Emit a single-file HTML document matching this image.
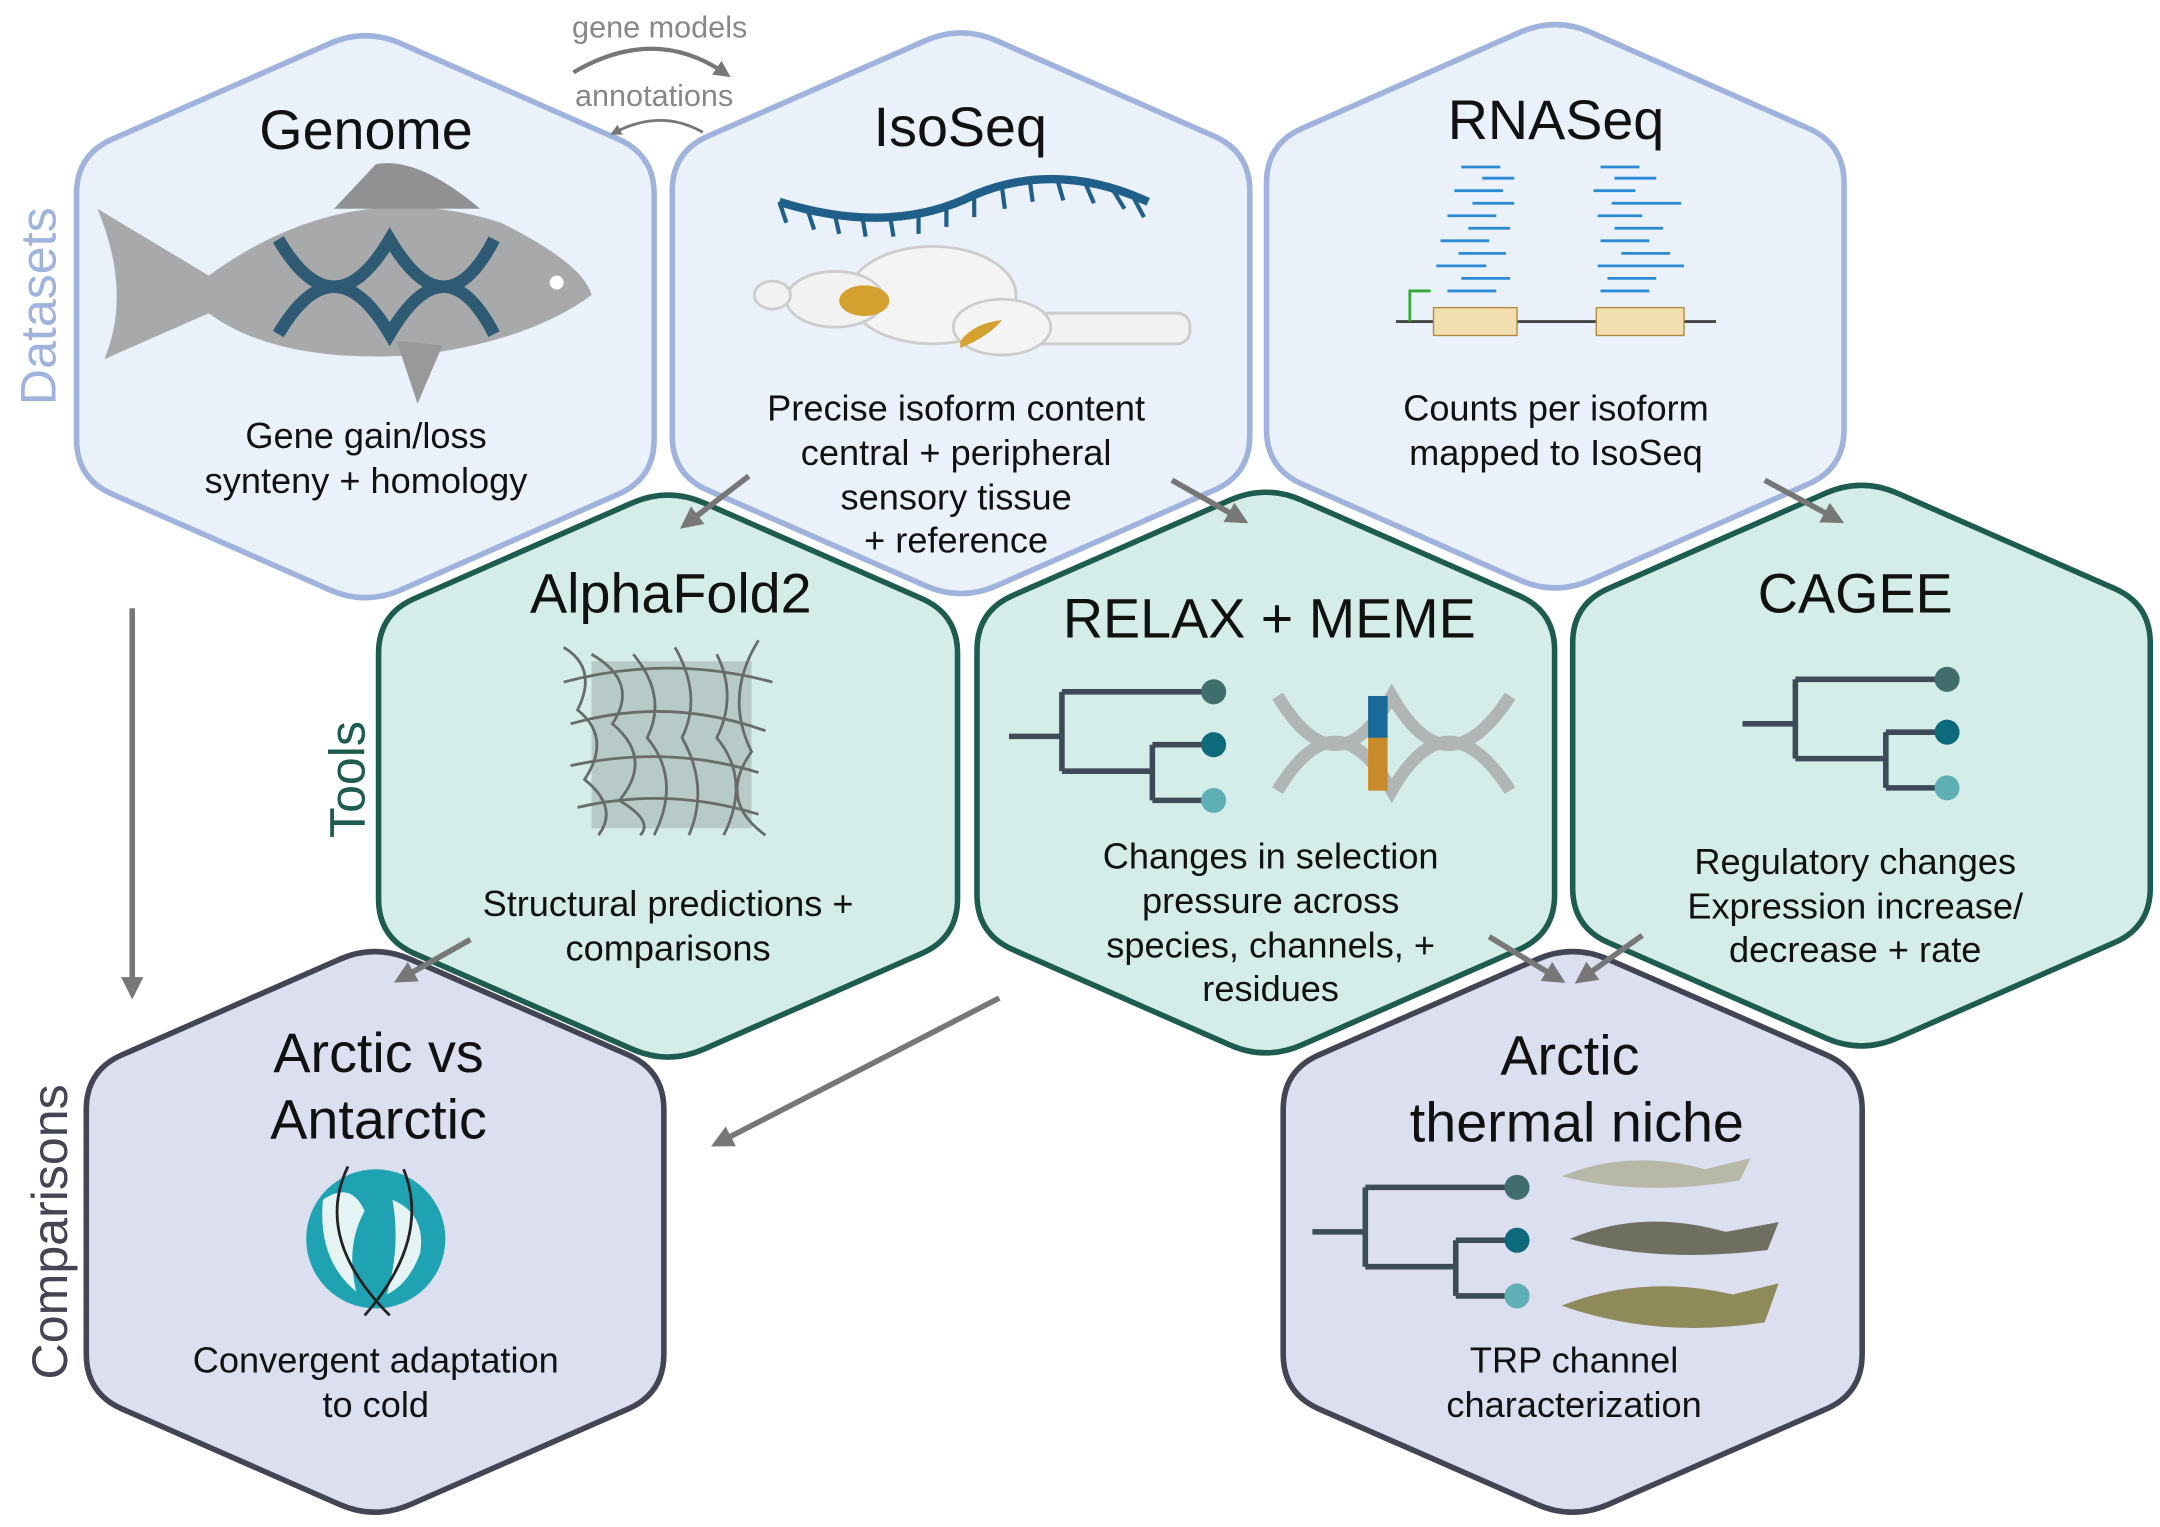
<!DOCTYPE html>
<html><head><meta charset="utf-8"><style>
html,body{margin:0;padding:0;background:#fff;}
svg{display:block;}
text{font-family:"Liberation Sans",sans-serif;}
</style></head><body>
<svg width="2160" height="1527" viewBox="0 0 1552 1097" preserveAspectRatio="none">
<defs>
<marker id="ar" viewBox="0 0 10 10" refX="5" refY="5" markerWidth="4" markerHeight="4" orient="auto"><path d="M0,0 L10,5 L0,10 z" fill="#777"/></marker>
</defs>
<g id="hexes"></g>
<text transform="translate(40,220) rotate(-90)" text-anchor="middle" font-size="36" fill="#9fb3dc">Datasets</text>
<text transform="translate(262,560) rotate(-90)" text-anchor="middle" font-size="36" fill="#1f5c50">Tools</text>
<text transform="translate(48,885) rotate(-90)" text-anchor="middle" font-size="36" fill="#434555">Comparisons</text>
<text x="474" y="27" text-anchor="middle" font-size="22" fill="#888">gene models</text>
<text x="470" y="76" text-anchor="middle" font-size="22" fill="#888">annotations</text>
<path d="M412,52 Q470,18 520,52" fill="none" stroke="#777" stroke-width="3" marker-end="url(#ar)"/>
<path d="M505,95 Q475,78 442,95" fill="none" stroke="#777" stroke-width="2" marker-end="url(#ar)"/>
<g stroke="#777" stroke-width="4" fill="none" marker-end="url(#ar)">
<line x1="95" y1="437" x2="95" y2="710"/>
<line x1="538" y1="342" x2="495" y2="375"/>
<line x1="842" y1="345" x2="890" y2="372"/>
<line x1="1268" y1="345" x2="1318" y2="372"/>
<line x1="338" y1="675" x2="290" y2="702"/>
<line x1="718" y1="717" x2="518" y2="820"/>
<line x1="1070" y1="673" x2="1118" y2="702"/>
<line x1="1180" y1="672" x2="1138" y2="702"/>
</g>
<g>
<path d="M150,198 Q250,125 360,160 Q420,190 425,212 Q380,245 300,255 Q200,262 150,225 L75,258 Q95,210 70,150 Z" fill="#a7a9ab"/>
<path d="M240,150 L270,118 Q300,112 345,150 Z" fill="#8f9193"/>
<path d="M285,245 L300,290 L318,248 Z" fill="#999"/>
<path d="M200,172 Q240,240 280,172 Q320,240 355,172 M200,240 Q240,172 280,240 Q320,172 355,240" stroke="#2e5b73" stroke-width="9" fill="none"/>
<circle cx="400" cy="203" r="5" fill="#fff"/>
</g>
<g>
<path d="M560,145 Q640,170 700,140 Q760,115 825,145" stroke="#1f5f8a" stroke-width="6" fill="none"/>
<path d="M560,145 L565,160 M580,150 L585,165 M600,155 L603,168 M620,158 L622,170 M640,158 L642,170 M660,155 L660,168 M680,150 L680,163 M700,142 L700,156 M720,135 L722,150 M740,130 L742,145 M760,130 L764,144 M780,132 L786,146 M800,137 L808,150 M815,143 L822,156" stroke="#1f5f8a" stroke-width="3"/>
<rect x="730" y="225" width="125" height="22" rx="9" fill="#f2f2f2" stroke="#ccc" stroke-width="2"/>
<ellipse cx="670" cy="212" rx="60" ry="35" fill="#f4f4f4" stroke="#ccc" stroke-width="2"/>
<ellipse cx="720" cy="235" rx="35" ry="20" fill="#f4f4f4" stroke="#ccc" stroke-width="2"/>
<ellipse cx="600" cy="215" rx="35" ry="20" fill="#f2f2f2" stroke="#ccc" stroke-width="2"/>
<ellipse cx="555" cy="212" rx="13" ry="10" fill="#f2f2f2" stroke="#ccc" stroke-width="2"/>
<ellipse cx="621" cy="216" rx="18" ry="11" fill="#d4a030"/>
<path d="M690,245 Q700,232 720,230 Q710,242 690,250Z" fill="#d4a030"/>
</g>
<g stroke="#2a8ad4" stroke-width="2">
<line x1="1050" y1="120" x2="1078" y2="120"/><line x1="1065" y1="128" x2="1088" y2="128"/><line x1="1045" y1="137" x2="1080" y2="137"/><line x1="1058" y1="146" x2="1088" y2="146"/><line x1="1040" y1="155" x2="1075" y2="155"/><line x1="1055" y1="164" x2="1085" y2="164"/><line x1="1035" y1="173" x2="1070" y2="173"/><line x1="1048" y1="182" x2="1082" y2="182"/><line x1="1032" y1="191" x2="1068" y2="191"/><line x1="1050" y1="200" x2="1085" y2="200"/><line x1="1040" y1="209" x2="1075" y2="209"/>
<line x1="1150" y1="120" x2="1178" y2="120"/><line x1="1160" y1="128" x2="1190" y2="128"/><line x1="1145" y1="137" x2="1175" y2="137"/><line x1="1158" y1="146" x2="1208" y2="146"/><line x1="1148" y1="155" x2="1180" y2="155"/><line x1="1160" y1="164" x2="1195" y2="164"/><line x1="1150" y1="173" x2="1185" y2="173"/><line x1="1165" y1="182" x2="1200" y2="182"/><line x1="1148" y1="191" x2="1210" y2="191"/><line x1="1155" y1="200" x2="1190" y2="200"/><line x1="1150" y1="209" x2="1185" y2="209"/>
</g>
<line x1="1003" y1="231" x2="1233" y2="231" stroke="#444" stroke-width="2"/>
<rect x="1030" y="221" width="60" height="20" fill="#f2dfb0" stroke="#b08b40"/>
<rect x="1147" y="221" width="63" height="20" fill="#f2dfb0" stroke="#b08b40"/>
<path d="M1013,231 L1013,209 L1028,209" stroke="#3a3" stroke-width="2" fill="none"/>
<g fill="none" stroke="#555" stroke-width="2" opacity="0.85">
<rect x="425" y="475" width="115" height="120" fill="#777" stroke="none" opacity="0.35"/>
<path d="M405,465 Q430,480 415,510 Q440,530 420,560 Q445,580 430,600 M425,470 Q460,490 440,520 Q470,545 445,575 Q470,590 460,600 M455,470 Q480,500 465,530 Q490,560 470,600 M485,465 Q505,500 490,530 Q510,565 495,600 M515,470 Q530,500 515,530 Q540,560 520,600 M545,460 Q520,500 540,540 Q515,575 550,600"/>
<path d="M405,490 Q480,470 555,490 M410,520 Q480,500 550,525 M410,550 Q480,535 545,555 M415,580 Q480,565 545,585"/>
</g>
<g id="trees" stroke="#3d4a57" stroke-width="4" fill="none"></g>
<path d="M918,500 Q960,570 1000,500 Q1040,570 1085,500 M918,568 Q960,498 1000,568 Q1040,498 1085,568" stroke="#b0b5b5" stroke-width="9" fill="none"/>
<rect x="983" y="500" width="14" height="68" fill="#c98a2a"/><rect x="983" y="500" width="14" height="30" fill="#1a6a9a"/>
<g>
<circle cx="270" cy="890" r="50" fill="#1fa3b3"/>
<path d="M232,862 Q252,848 262,870 Q248,895 256,928 Q228,905 232,862Z M282,862 Q306,872 302,900 Q294,922 278,930 Q288,895 282,862Z" fill="#e5f3f5"/>
<path d="M250,838 Q225,890 280,945 M290,840 Q310,890 262,945" stroke="#222" stroke-width="2" fill="none"/>
</g>
<g>
<path d="M1122,845 Q1170,825 1225,840 L1258,832 L1250,848 Q1180,860 1122,845Z" fill="#b8b8a8"/>
<path d="M1128,890 Q1180,868 1240,885 L1278,878 L1270,898 Q1190,908 1128,890Z" fill="#6f6f60"/>
<path d="M1122,938 Q1180,915 1245,930 L1278,922 L1268,950 Q1190,962 1122,938Z" fill="#8f8a5a"/>
</g>
<g font-size="40" fill="#111" text-anchor="middle">
<text x="263" y="107">Genome</text>
<text x="690" y="105">IsoSeq</text>
<text x="1118" y="100">RNASeq</text>
<text x="482" y="440">AlphaFold2</text>
<text x="912" y="458">RELAX + MEME</text>
<text x="1333" y="440">CAGEE</text>
<text x="272" y="770">Arctic vs</text>
<text x="272" y="818">Antarctic</text>
<text x="1128" y="772">Arctic</text>
<text x="1133" y="820">thermal niche</text>
</g>
<g font-size="26" fill="#111" text-anchor="middle">
<text x="263" y="322">Gene gain/loss</text><text x="263" y="354">synteny + homology</text>
<text x="687" y="302">Precise isoform content</text><text x="687" y="334">central + peripheral</text><text x="687" y="366">sensory tissue</text><text x="687" y="397">+ reference</text>
<text x="1118" y="302">Counts per isoform</text><text x="1118" y="334">mapped to IsoSeq</text>
<text x="480" y="658">Structural predictions +</text><text x="480" y="690">comparisons</text>
<text x="913" y="624">Changes in selection</text><text x="913" y="656">pressure across</text><text x="913" y="688">species, channels, +</text><text x="913" y="719">residues</text>
<text x="1333" y="628">Regulatory changes</text><text x="1333" y="660">Expression increase/</text><text x="1333" y="691">decrease + rate</text>
<text x="270" y="986">Convergent adaptation</text><text x="270" y="1018">to cold</text>
<text x="1131" y="986">TRP channel</text><text x="1131" y="1018">characterization</text>
</g>
</svg>
<script>
const hexNames=['genome-hex','isoseq-hex','rnaseq-hex','alphafold-hex','relax-meme-hex','cagee-hex','arctic-antarctic-hex','arctic-niche-hex'];
const hexBox=[[55,470,20,435],[483,898,18,432],[910,1325,12,428],[272,688,350,765],[702,1117,348,762],[1130,1545,343,757],[62,477,678,1092],[922,1338,678,1092]];
const hexFill=['#eaf1fb','#eaf1fb','#eaf1fb','#d4ede9','#d4ede9','#d4ede9','#dcdff0','#dcdff0'];
const hexStroke=['#9fb3dc','#9fb3dc','#9fb3dc','#1f5c50','#1f5c50','#1f5c50','#434555','#434555'];
const NS='http://www.w3.org/2000/svg';
const g=document.getElementById('hexes');
function rounded(pts,rad){
 let d='';
 const n=pts.length;
 for(let i=0;i!==n;i++){
  const p=pts[i],a=pts[(i-1+n)%n],b=pts[(i+1)%n];
  const da=Math.hypot(a[0]-p[0],a[1]-p[1]),db=Math.hypot(b[0]-p[0],b[1]-p[1]);
  const s=[p[0]+(a[0]-p[0])*rad/da,p[1]+(a[1]-p[1])*rad/da];
  const e=[p[0]+(b[0]-p[0])*rad/db,p[1]+(b[1]-p[1])*rad/db];
  d+=(i===0?'M':'L')+s[0]+','+s[1]+' Q'+p[0]+','+p[1]+' '+e[0]+','+e[1]+' ';
 }
 return d+'Z';
}
hexBox.forEach((bx,i)=>{
 const [l,r,t,bt]=bx,cx=(l+r)/2,h=bt-t;
 const pts=[[cx,t],[r,t+0.22*h],[r,t+0.78*h],[cx,bt],[l,t+0.78*h],[l,t+0.22*h]];
 const el=document.createElementNS(NS,'path');
 el.setAttribute('d',rounded(pts,28));
 el.setAttribute('fill',hexFill[i]);el.setAttribute('stroke',hexStroke[i]);
 el.setAttribute('stroke-width','4');
 
 
 g.appendChild(el);
});
const treeOrigin=[[725,497],[1252,488],[943,853]];
const tg=document.getElementById('trees');
const tipColors=['#3f6e6c','#0d6a7a','#5fb0b5'];
treeOrigin.forEach(([x,y])=>{
 const el=document.createElementNS(NS,'path');
 el.setAttribute('d',`M${x},${y+32} H${x+38} M${x+38},${y} V${y+57} M${x+38},${y} H${x+147} M${x+38},${y+57} H${x+103} M${x+103},${y+38} V${y+78} M${x+103},${y+38} H${x+147} M${x+103},${y+78} H${x+147}`);
 
 
 tg.appendChild(el);
 [0,38,78].forEach((d,k)=>{
  const c=document.createElementNS(NS,'circle');
  c.setAttribute('cx',x+147);c.setAttribute('cy',y+d);c.setAttribute('r',9);
  c.setAttribute('fill',tipColors[k]);c.setAttribute('stroke','none');
  
  
  tg.appendChild(c);
 });
});
</script>
</body></html>
